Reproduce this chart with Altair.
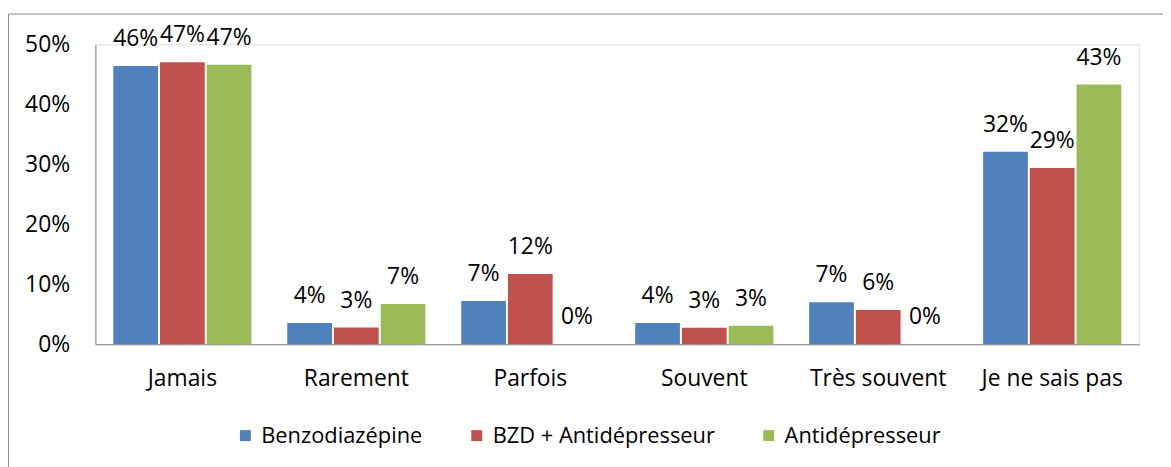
import altair as alt
import pandas as pd

categories = ["Jamais", "Rarement", "Parfois", "Souvent", "Très souvent", "Je ne sais pas"]
series = ["Benzodiazépine", "BZD + Antidépresseur", "Antidépresseur"]
benzo = [0.464, 0.0355, 0.072, 0.0355, 0.070, 0.321]
bzd_anti = [0.470, 0.028, 0.117, 0.0275, 0.057, 0.294]
anti = [0.466, 0.067, 0.0, 0.031, 0.0, 0.433]
colors = ["#4F81BD", "#C0504D", "#9BBB59"]
y_ticks = [0, 0.1, 0.2, 0.3, 0.4, 0.5]

rows = []
for name, vals in zip(series, [benzo, bzd_anti, anti]):
    for c, v in zip(categories, vals):
        rows.append({"cat": c, "serie": name, "val": v})
df = pd.DataFrame(rows)

FONT = "Open Sans"
FS = 23
W, H = 1051, 302

x = alt.X("cat:N", sort=categories, title=None,
          scale=alt.Scale(paddingInner=0.206, paddingOuter=0.103),
          axis=alt.Axis(labelAngle=0, ticks=False, domainColor="#868686",
                        labelFontSize=FS, labelFont=FONT, labelColor="#000000",
                        labelPadding=24))
xo = alt.XOffset("serie:N", sort=series,
                 scale=alt.Scale(paddingInner=0.043, paddingOuter=0))
y = alt.Y("val:Q", title=None,
          scale=alt.Scale(domain=[0, 0.5], nice=False),
          axis=alt.Axis(values=y_ticks, format=".0%", ticks=False, grid=False,
                        domainColor="#868686", labelFontSize=FS, labelFont=FONT,
                        labelColor="#000000", labelPadding=26))
color = alt.Color("serie:N", sort=series,
                  scale=alt.Scale(domain=series, range=colors),
                  legend=alt.Legend(title=None, orient="none", direction="horizontal",
                                    columns=3, legendX=140, legendY=383,
                                    symbolType="square", symbolSize=121,
                                    symbolStrokeWidth=0, labelFontSize=22,
                                    labelFont=FONT, labelColor="#000000",
                                    labelLimit=1000,
                                    columnPadding=43, labelOffset=5, padding=0))

base = alt.Chart(df)

bars = base.mark_bar().encode(x=x, xOffset=xo, y=y, color=color)

labels = base.mark_text(fontSize=FS, font=FONT, color="#000000",
                        baseline="alphabetic", dy=-20).encode(
    x=alt.X("cat:N", sort=categories), xOffset=alt.XOffset("serie:N", sort=series),
    y="val:Q", text=alt.Text("val:Q", format=".0%"))

frame = alt.Chart(pd.DataFrame({"a": [0]})).mark_rect(
    fill=None, stroke="#8c8c8c", strokeWidth=1).encode(
    x=alt.value(-87.5), x2=alt.value(W + 200),
    y=alt.value(-30.5), y2=alt.value(H + 300))

chart = alt.layer(frame, bars, labels).properties(
    width=W, height=H,
    padding={"left": 88, "top": 35, "right": 24, "bottom": 122},
    autosize=alt.AutoSizeParams(type="none"),
).configure_view(stroke=None).configure(background="white")

chart.save("out.html", embed_options={"renderer": "svg", "actions": False})
